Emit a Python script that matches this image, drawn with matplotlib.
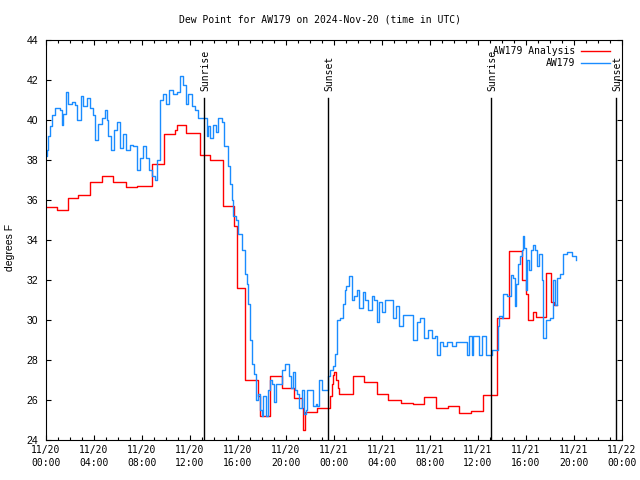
import matplotlib
matplotlib.use('Agg')
import matplotlib.pyplot as plt

# blue obs (hours since 11/20 00:00 UTC, deg F)
obs_hours = [0.0, 0.05, 0.2, 0.33, 0.47, 0.75, 1.17, 1.3, 1.44, 1.67, 1.86, 2.14, 2.42, 2.6, 2.9,
             3.1, 3.4, 3.67, 3.9, 4.08, 4.36, 4.64, 4.92, 5.06, 5.19, 5.39, 5.67, 5.94, 6.17, 6.44,
             6.67, 7.0, 7.28, 7.56, 7.83, 8.1, 8.33, 8.6, 8.8, 9.08, 9.28, 9.5, 9.72, 10.0, 10.28,
             10.6, 10.9, 11.17, 11.44, 11.64, 11.86, 12.14, 12.42, 12.69, 13.1, 13.4, 13.5, 13.67,
             13.9, 14.17, 14.36, 14.64, 14.86, 15.14, 15.33, 15.47, 15.6, 15.83, 16.03, 16.3, 16.6,
             16.72, 16.86, 17.0, 17.14, 17.33, 17.5, 17.69, 17.83, 17.97, 18.1, 18.33, 18.53, 18.67,
             18.8, 19.0, 19.2, 19.5, 19.64, 19.9, 20.1, 20.25, 20.4, 20.56, 20.75, 20.94, 21.1, 21.3,
             21.5, 21.67, 21.72, 22.06, 22.28, 22.5, 22.6, 22.78, 22.97, 23.25, 23.47, 23.67, 23.94,
             24.08, 24.22, 24.5, 24.72, 24.9, 25.0, 25.28, 25.47, 25.67, 25.9, 26.1, 26.4, 26.58,
             26.86, 27.14, 27.36, 27.56, 27.78, 27.97, 28.25, 28.72, 28.94, 29.17, 29.44, 29.78,
             30.28, 30.56, 30.9, 31.17, 31.5, 31.86, 32.14, 32.4, 32.6, 32.83, 33.1, 33.4, 33.8,
             34.2, 35.0, 35.1, 35.28, 35.5, 35.6, 35.9, 36.1, 36.3, 36.5, 36.67, 37.0, 37.14, 37.55,
             37.7, 37.78, 37.97, 38.1, 38.39, 38.6, 38.72, 38.94, 39.08, 39.2, 39.36, 39.5, 39.64,
             39.78, 39.86, 40.0, 40.1, 40.28, 40.39, 40.56, 40.75, 40.94, 41.1, 41.3, 41.44, 41.67,
             42.0, 42.28, 42.42, 42.56, 42.83, 43.1, 43.44, 43.8, 44.17]
obs_dewpt = [38.2, 38.5, 39.2, 39.7, 40.25, 40.6, 40.5, 39.75, 40.3, 41.4, 40.8, 40.9, 40.75, 40.0, 41.2,
             40.7, 41.1, 40.6, 40.25, 39.0, 39.8, 40.1, 40.5, 40.0, 39.2, 38.5, 39.5, 39.9, 38.6, 39.3,
             38.5, 38.75, 38.7, 37.5, 38.1, 38.7, 38.1, 37.5, 37.2, 37.0, 38.0, 41.0, 41.3, 40.8, 41.5,
             41.3, 41.4, 42.2, 41.75, 40.8, 41.3, 40.7, 40.5, 40.1, 40.1, 39.2, 39.7, 39.1,
             39.75, 39.4, 40.1, 39.9, 38.7, 37.7, 36.8, 36.0, 35.2, 35.0, 34.3, 33.5, 32.3,
             31.8, 30.8, 29.0, 27.8, 27.3, 26.0, 26.3, 25.5, 25.2, 26.2, 25.2, 26.5, 27.0,
             26.8, 25.9, 26.8, 26.8, 27.5, 27.8, 27.8, 27.2, 26.6, 27.4, 26.5, 26.3, 25.6, 26.5,
             25.3, 25.5, 26.5, 26.5, 25.7, 25.8, 25.7, 27.0, 26.5, 26.5, 27.2, 27.5, 27.7,
             28.3, 30.0, 30.1, 30.8, 31.5, 31.7, 32.2, 31.0, 31.2, 31.5, 30.6, 31.4, 31.0,
             30.5, 31.2, 31.0, 29.9, 30.9, 30.4, 31.0, 31.0, 30.1, 30.7, 29.7, 30.25,
             30.25, 29.0, 29.9, 30.1, 29.1, 29.5, 29.1, 29.2, 28.25, 28.9, 28.7, 28.9, 28.7,
             28.9, 28.9, 28.25, 29.2, 28.25, 29.2, 29.2, 28.25, 29.2, 29.2, 28.25, 28.25, 28.5, 28.5,
             29.7, 30.2, 30.1, 31.3, 31.2, 31.2, 32.25, 32.1, 30.7, 31.8, 32.8, 33.2, 33.5,
             34.2, 33.6, 31.5, 33.0, 32.5, 33.5, 33.75, 33.5, 32.7, 33.3, 32.0, 29.1, 30.0,
             30.1, 32.0, 30.75, 32.1, 32.3, 33.3, 33.4, 33.2, 33.0]

# red analysis
ana_hours = [0.0, 0.9, 1.8, 2.7, 3.67, 4.64, 5.6, 6.67, 7.6, 8.8, 9.83, 10.75, 10.9, 11.7, 12.83,
             13.7, 14.75, 15.7, 15.9, 16.6, 17.7, 17.8, 18.7, 19.7, 20.7, 21.3, 21.45, 21.6, 22.6,
             23.7, 23.8, 23.9, 24.0, 24.15, 24.3, 24.45, 24.6, 25.6, 26.5, 27.6, 28.5, 29.6, 30.6,
             31.5, 32.5, 33.5, 34.4, 35.0, 35.4, 36.4, 37.6, 38.6, 39.7, 40.0, 40.2, 40.6, 40.8,
             41.67, 42.1, 42.3, 42.6]
ana_dewpt = [35.65, 35.5, 36.1, 36.25, 36.9, 37.2, 36.9, 36.67, 36.7, 37.8, 39.3, 39.5, 39.75, 39.37, 38.25,
             38.0, 35.7, 34.7, 31.6, 27.0, 26.2, 25.2, 27.2, 26.6, 26.1, 25.6, 24.5, 25.4, 25.6,
             26.2, 26.8, 27.25, 27.4, 27.0, 26.6, 26.3, 26.3, 27.2, 26.9, 26.3, 26.0, 25.83, 25.8,
             26.13, 25.6, 25.7, 25.37, 25.33, 25.45, 26.25, 30.1, 33.45, 32.0, 31.3, 30.0, 30.4, 30.15,
             32.35, 30.9, 30.75, 30.75]

sun_hours = [13.18, 23.53, 37.11, 47.5]
sun_names = ['Sunrise', 'Sunset', 'Sunrise', 'Sunset']

tick_hours = list(range(0, 49, 4))
tick_labels = ['11/20\n00:00', '11/20\n04:00', '11/20\n08:00', '11/20\n12:00', '11/20\n16:00',
               '11/20\n20:00', '11/21\n00:00', '11/21\n04:00', '11/21\n08:00', '11/21\n12:00',
               '11/21\n16:00', '11/21\n20:00', '11/22\n00:00']

mono = 'DejaVu Sans Mono'
blue = '#1a8cff'

fig = plt.figure(figsize=(6.4, 4.8), dpi=100)
ax = fig.add_axes([46/640, 40/480, 576/640, 400/480])

ax.plot(ana_hours, ana_dewpt, color='red', lw=1.0, drawstyle='steps-post')
ax.plot(obs_hours, obs_dewpt, color=blue, lw=1.0, drawstyle='steps-post')

for h, name in zip(sun_hours, sun_names):
    ax.plot([h, h], [24, 41.1], color='black', lw=1.0)
    ax.text(h + 0.1, 41.45, name, rotation=90, ha='center', va='bottom',
            family=mono, fontsize=7)

ax.set_xlim(0, 48)
ax.set_ylim(24, 44)
ax.set_xticks(tick_hours)
ax.set_xticklabels(tick_labels, family=mono, fontsize=7, linespacing=1.45)
ax.set_xticks(range(0, 49), minor=True)
ax.set_yticks(range(24, 45, 2))
ax.set_yticklabels([str(v) for v in range(24, 45, 2)], family='Liberation Sans', fontsize=7.5)
ax.tick_params(which='both', direction='in', top=True, right=True, width=0.8)
ax.tick_params(which='major', length=3.4)
ax.tick_params(which='minor', length=2.0)
ax.tick_params(axis='x', pad=3.5)
ax.tick_params(axis='y', pad=5.5)
ax.tick_params(axis='y', which='minor', left=False, right=False)
for s in ax.spines.values():
    s.set_linewidth(0.8)

# legend, gnuplot style (text right aligned, sample to the right)
ax.text(0.918, 0.973, 'AW179 Analysis', transform=ax.transAxes, ha='right', va='center',
        family=mono, fontsize=7)
ax.plot([0.929, 0.979], [0.973, 0.973], transform=ax.transAxes, color='red', lw=1.0)
ax.text(0.918, 0.9425, 'AW179', transform=ax.transAxes, ha='right', va='center',
        family=mono, fontsize=7)
ax.plot([0.929, 0.979], [0.9425, 0.9425], transform=ax.transAxes, color=blue, lw=1.0)

fig.text(0.5, 1 - 20/480, 'Dew Point for AW179 on 2024-Nov-20 (time in UTC)', ha='center',
         va='center', family=mono, fontsize=7)
fig.text(10.5/640, 1 - 247/480, 'degrees F', rotation=90, ha='center', va='center',
         family='Liberation Sans', fontsize=7.5)

fig.savefig('out.png', dpi=100)
